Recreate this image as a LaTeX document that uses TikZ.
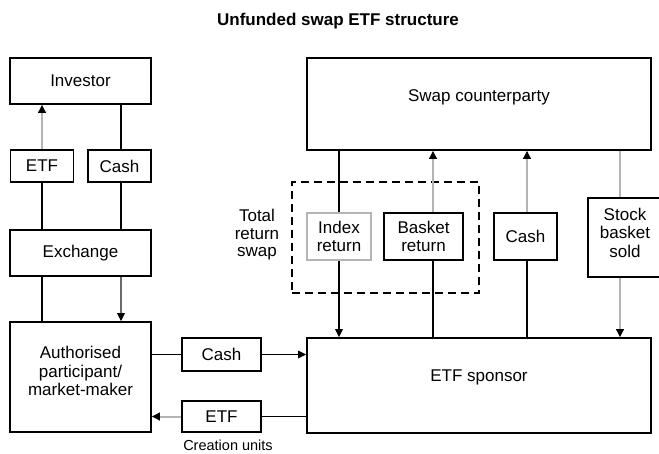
\documentclass[tikz,border=0pt]{standalone}
\usepackage{fontspec}
\setmainfont{Liberation Sans}
\usetikzlibrary{arrows.meta}
\definecolor{lgray}{HTML}{B4B4B4}
\definecolor{dgray}{HTML}{6A6A6A}
\begin{document}
\begin{tikzpicture}[x=1pt,y=-1pt,
  box/.style={draw=black, line width=1.6pt, fill=white, inner sep=0pt, align=center,
     font=\fontsize{17}{18.5}\selectfont},
  conn/.style={line width=1.5pt, black},
  gconn/.style={line width=2pt, lgray},
  tip/.style={-{Triangle[length=8pt,width=7.5pt,black]}},
]
\useasboundingbox (0,0) rectangle (659,453);
\fill[white] (0,0) rectangle (659,453);

\node[font=\bfseries\fontsize{17}{19}\selectfont] (title) at (338,21) {Unfunded swap ETF structure};

% left column
\node[box, minimum width=141pt, minimum height=46pt] (inv) at (80.5,81) {Investor};
\node[box, minimum width=63pt, minimum height=32pt] (etfa) at (42,166) {ETF};
\node[box, minimum width=63pt, minimum height=32pt] (casha) at (119.5,166) {Cash};
\node[box, minimum width=141pt, minimum height=46pt] (exch) at (80.5,253) {Exchange};
\node[box, minimum width=141pt, minimum height=110pt, text depth=12pt] (ap) at (80.5,377) {Authorised\\participant/\\market-maker};
\node[box, minimum width=79pt, minimum height=33pt] (cashb) at (221.5,354.5) {Cash};
\node[box, minimum width=79pt, minimum height=31pt] (etfb) at (221.5,416.5) {ETF};
\node[font=\fontsize{14.5}{16}\selectfont, inner sep=0pt] (cu) at (228,445) {Creation units};

% right part
\node[box, minimum width=344pt, minimum height=92pt, text depth=16pt] (swap) at (479,104) {Swap counterparty};
\node[box, minimum width=344pt, minimum height=95pt, text depth=20pt] (spon) at (479,385.5) {ETF sponsor};
\node[draw=black, dashed, dash pattern=on 8pt off 5pt, line width=1.5pt, minimum width=187pt, minimum height=111pt, inner sep=0pt] (trs) at (385.5,237.5) {};
\node[box, draw=lgray, minimum width=64pt, minimum height=47pt] (idx) at (339,236.5) {Index\\return};
\node[box, minimum width=79pt, minimum height=47pt] (bsk) at (423.5,236.5) {Basket\\return};
\node[box, minimum width=63pt, minimum height=47pt] (cashc) at (525.5,236.5) {Cash};
\node[box, minimum width=74pt, minimum height=79pt, text depth=10pt] (stock) at (625,237.5) {Stock\\basket\\sold};
\node[align=center, font=\fontsize{17}{17.5}\selectfont] (trslbl) at (257,235) {Total\\return\\swap};

% coordinates for offset lines
\coordinate (cx) at (121,0);
\coordinate (bx) at (433,0);
\coordinate (ccx) at (527,0);
\coordinate (sx) at (620,0);

% left connectors
\draw[gconn, tip] (etfa.north) -- (etfa.north |- inv.south);
\draw[conn] (cx |- inv.south) -- (cx |- casha.north);
\draw[conn] (etfa.south) -- (etfa.south |- exch.north);
\draw[conn] (cx |- casha.south) -- (cx |- exch.north);
\draw[conn] (etfa.south |- exch.south) -- (etfa.south |- ap.north);
\draw[line width=1.5pt, dgray, tip] (cx |- exch.south) -- (cx |- ap.north);

% AP <-> sponsor
\draw[conn] (ap.east |- cashb.west) -- (cashb.west);
\draw[conn, tip] (cashb.east) -- (cashb.east -| spon.west);
\draw[conn] (spon.west |- etfb.east) -- (etfb.east);
\draw[gconn, tip] (etfb.west) -- (etfb.west -| ap.east);

% swap <-> sponsor
\draw[conn] (idx.north |- swap.south) -- (idx.north);
\draw[conn, tip] (idx.south) -- (idx.south |- spon.north);
\draw[gconn, tip] (bx |- bsk.north) -- (bx |- swap.south);
\draw[conn] (bx |- bsk.south) -- (bx |- spon.north);
\draw[gconn, tip] (ccx |- cashc.north) -- (ccx |- swap.south);
\draw[conn] (ccx |- cashc.south) -- (ccx |- spon.north);
\draw[gconn] (sx |- swap.south) -- (sx |- stock.north);
\draw[gconn, tip] (sx |- stock.south) -- (sx |- spon.north);
\end{tikzpicture}
\end{document}
